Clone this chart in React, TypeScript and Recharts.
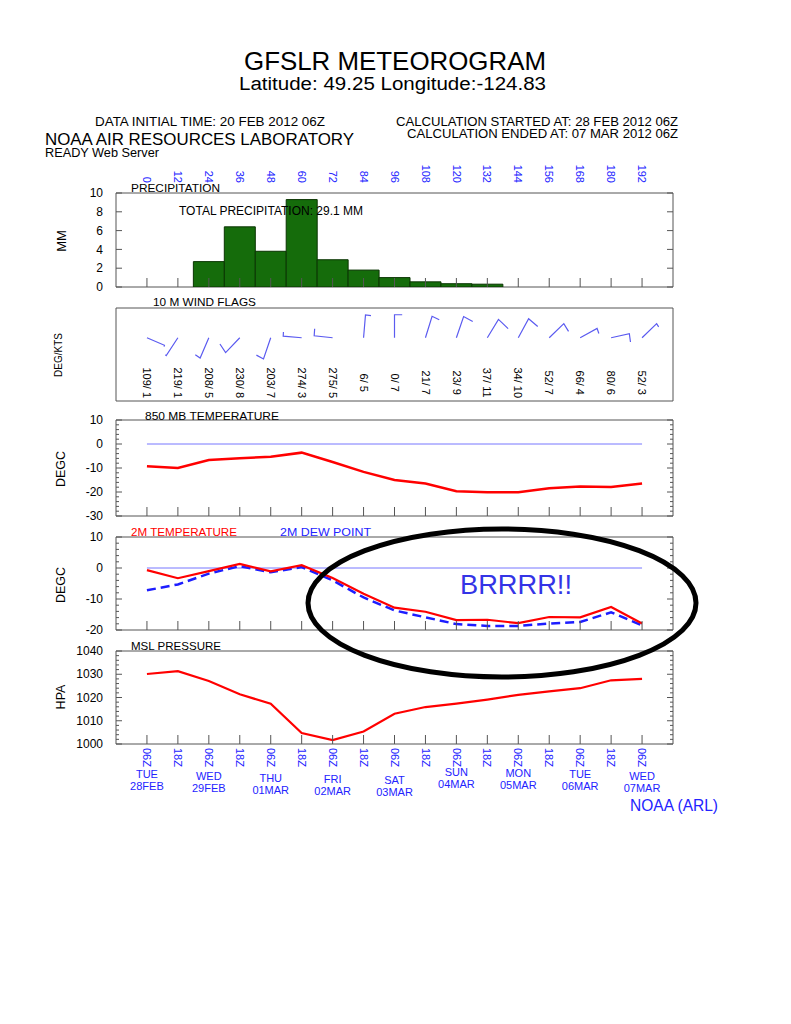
import React from 'react';
import {
  ComposedChart,
  Bar,
  Line,
  Scatter,
  XAxis,
  YAxis,
  ReferenceArea,
  ReferenceLine,
} from 'recharts';

// forecast hours (every 12 h from 28 FEB 06Z)
const HOURS = [0, 12, 24, 36, 48, 60, 72, 84, 96, 108, 120, 132, 144, 156, 168, 180, 192];

// precipitation per 12 h (mm)
const PRECIP_HOURS = [24, 36, 48, 60, 72, 84, 96, 108, 120, 132];
const PRECIP_MM = [2.7, 6.4, 3.8, 9.3, 2.9, 1.8, 1.0, 0.55, 0.35, 0.3];

// 10 m wind: direction (deg) / speed (kts)
const WIND_DIR = [109, 219, 208, 230, 203, 274, 275, 6, 0, 21, 23, 37, 34, 52, 66, 80, 52];
const WIND_KTS = [1, 1, 5, 8, 7, 3, 5, 5, 7, 7, 9, 11, 10, 7, 4, 6, 3];

// temperatures (degC) and pressure (hPa)
const T850 = [-9.3, -10, -6.7, -5.9, -5.3, -3.6, -7.5, -11.6, -15, -16.5, -19.7, -20.1, -20.1, -18.4, -17.7, -17.9, -16.5];
const T2M = [-0.7, -3.3, -1, 1.3, -1.1, 0.9, -3.2, -8.3, -12.8, -14.1, -16.8, -16.7, -17.8, -15.8, -15.9, -12.6, -17.9];
const DEW2M = [-7.2, -5.3, -1.8, 0.6, -1.4, 0.3, -4, -9.5, -13.7, -15.9, -18.1, -18.7, -18.7, -17.9, -17.4, -14.3, -18.5];
const MSLP = [1030.1, 1031.3, 1027.1, 1021.4, 1017.3, 1004.7, 1001.7, 1005.4, 1013, 1015.9, 1017.4, 1019.1, 1021.1, 1022.6, 1024, 1027.4, 1028];

// tick labels
const PRECIP_TICKS = [0, 2, 4, 6, 8, 10];
const T850_TICKS = [-30, -20, -10, 0, 10];
const T2M_TICKS = [-20, -10, 0, 10];
const MSLP_TICKS = [1000, 1010, 1020, 1030, 1040];
const TIME_LABELS = ['06Z', '18Z', '06Z', '18Z', '06Z', '18Z', '06Z', '18Z', '06Z', '18Z', '06Z', '18Z', '06Z', '18Z', '06Z', '18Z', '06Z'];
const DAY_NAMES = ['TUE', 'WED', 'THU', 'FRI', 'SAT', 'SUN', 'MON', 'TUE', 'WED'];
const DAY_DATES = ['28FEB', '29FEB', '01MAR', '02MAR', '03MAR', '04MAR', '05MAR', '06MAR', '07MAR'];
const DAY_SHIFT = [0, 2, 4, 5, 6, -2, -1, 0, 2];

const W = 791;
const X_DOMAIN: [number, number] = [-12, 204];
const WIND_ROW = 0.68;
const FONT = '"Liberation Sans", Arial, Helvetica, sans-serif';
const BLUE = '#2323ff';
const RED = '#ff0000';
const FRAME = '#555555';
const GREEN = '#156c0b';

const minorTicks = (lo: number, hi: number) => {
  const out: number[] = [];
  for (let v = lo; v <= hi; v += 2) out.push(v);
  return out;
};

const leftTick = (majors: number[]) => (props: any) => {
  const { x, y, payload } = props;
  const major = majors.includes(payload.value);
  return (
    <g>
      <line x1={x} y1={y} x2={x + (major ? 6 : 3)} y2={y} stroke={FRAME} />
      {major && (
        <text x={x - 13} y={y} dy="0.35em" textAnchor="end" fontSize={12} fill="#000" fontFamily={FONT}>
          {payload.value}
        </text>
      )}
    </g>
  );
};

const rightTick = (majors: number[]) => (props: any) => {
  const { x, y, payload } = props;
  const major = majors.includes(payload.value);
  return <line x1={x} y1={y} x2={x - (major ? 6 : 3)} y2={y} stroke={FRAME} />;
};

const innerTick = (props: any) => {
  const { x, y } = props;
  return <line x1={x} y1={y} x2={x} y2={y - 9} stroke={FRAME} />;
};

const topHourTick = (props: any) => {
  const { x, y, payload } = props;
  return (
    <text
      x={x}
      y={y}
      dy="0.35em"
      transform={`rotate(90 ${x} ${y})`}
      textAnchor="end"
      fontSize={11}
      fill={BLUE}
      fontFamily={FONT}
    >
      {payload.value}
    </text>
  );
};

const timeTick = (props: any) => {
  const { x, y, payload } = props;
  const i = HOURS.indexOf(payload.value);
  const d = payload.value % 24 === 0 ? payload.value / 24 : -1;
  return (
    <g fontFamily={FONT} fill={BLUE} fontSize={11}>
      <line x1={x} y1={y} x2={x} y2={y - 9} stroke={FRAME} />
      <text x={x} y={y + 4} dy="0.35em" transform={`rotate(90 ${x} ${y + 4})`} textAnchor="start">
        {TIME_LABELS[i]}
      </text>
      {d >= 0 && (
        <>
          <text x={x} y={y + 30 + DAY_SHIFT[d]} dy="0.35em" textAnchor="middle">
            {DAY_NAMES[d]}
          </text>
          <text x={x} y={y + 42 + DAY_SHIFT[d]} dy="0.35em" textAnchor="middle">
            {DAY_DATES[d]}
          </text>
        </>
      )}
    </g>
  );
};

// wind flag: staff toward the direction the wind blows from, barb on the right
const WindFlag = (props: any) => {
  const { cx, cy, payload } = props;
  const a = (payload.dir * Math.PI) / 180;
  const b = ((payload.dir + 90) * Math.PI) / 180;
  const tx = cx + Math.sin(a) * 18.5;
  const ty = cy - Math.cos(a) * 23;
  const bx = tx + Math.sin(b) * 1.1 * payload.kts;
  const by = ty - Math.cos(b) * 1.4 * payload.kts;
  return (
    <g>
      <polyline points={`${cx},${cy} ${tx},${ty} ${bx},${by}`} fill="none" stroke="#5b5bf0" strokeWidth={1.2} />
      <text
        x={cx}
        y={cy + 45}
        dy="0.35em"
        transform={`rotate(90 ${cx} ${cy + 45})`}
        textAnchor="middle"
        fontSize={11}
        fill="#000"
        fontFamily={FONT}
      >
        {`${payload.dir}/ ${payload.kts}`}
      </text>
    </g>
  );
};

const Panel = ({ top, height, children }: { top: number; height: number; children: React.ReactNode }) => (
  <div style={{ position: 'absolute', left: 0, top, width: W, height }}>{children}</div>
);

const xCommon = {
  type: 'number' as const,
  dataKey: 'hour',
  domain: X_DOMAIN,
  ticks: HOURS,
  interval: 0 as const,
  allowDataOverflow: true,
  tickSize: 0,
  tickMargin: 0,
  axisLine: false,
  tickLine: false,
};

const yAxes = (lo: number, hi: number, majors: number[], ticks: number[]) => [
  <YAxis
    key="l"
    type="number"
    domain={[lo, hi]}
    ticks={ticks}
    interval={0}
    width={116}
    allowDataOverflow
    tickSize={0}
    tickMargin={0}
    axisLine={false}
    tickLine={false}
    tick={leftTick(majors)}
  />,
  <YAxis
    key="r"
    yAxisId="r"
    orientation="right"
    type="number"
    domain={[lo, hi]}
    ticks={ticks}
    interval={0}
    width={118}
    allowDataOverflow
    tickSize={0}
    tickMargin={0}
    axisLine={false}
    tickLine={false}
    tick={rightTick(majors)}
  />,
];

const frame = (lo: number, hi: number) => (
  <ReferenceArea x1={X_DOMAIN[0]} x2={X_DOMAIN[1]} y1={lo} y2={hi} fill="none" stroke={FRAME} ifOverflow="visible" />
);

export default function App() {
  const precipData = PRECIP_HOURS.map((hour, i) => ({ hour, mm: PRECIP_MM[i] }));
  const windData = HOURS.map((hour, i) => ({ hour, row: WIND_ROW, dir: WIND_DIR[i], kts: WIND_KTS[i] }));
  const t850Data = HOURS.map((hour, i) => ({ hour, t: T850[i] }));
  const t2mData = HOURS.map((hour, i) => ({ hour, t: T2M[i], td: DEW2M[i] }));
  const mslData = HOURS.map((hour, i) => ({ hour, p: MSLP[i] }));
  const zeroSeg = [
    { x: HOURS[0], y: 0 },
    { x: HOURS[HOURS.length - 1], y: 0 },
  ];

  return (
    <div style={{ position: 'absolute', left: 0, top: 0, width: W, height: 1024, background: '#fff', fontFamily: FONT }}>
      <Panel top={150} height={147}>
        <ComposedChart width={W} height={147} data={precipData} margin={{ top: 10, right: 0, bottom: 0, left: 0 }} barCategoryGap={0} barGap={0}>
          <XAxis {...xCommon} xAxisId="top" orientation="top" height={33} tickMargin={10} tick={topHourTick} />
          <XAxis {...xCommon} height={10} tick={innerTick} />
          {yAxes(0, 10, PRECIP_TICKS, PRECIP_TICKS)}
          <Bar dataKey="mm" fill={GREEN} stroke="#0b3503" strokeWidth={1} isAnimationActive={false} />
          {frame(0, 10)}
        </ComposedChart>
      </Panel>

      <Panel top={298} height={112}>
        <ComposedChart width={W} height={112} data={windData} margin={{ top: 10, right: 118, bottom: 9, left: 0 }}>
          <XAxis {...xCommon} height={0} tick={false} />
          <YAxis type="number" domain={[0, 1]} width={116} tick={false} axisLine={false} tickLine={false} />
          <Scatter dataKey="row" shape={<WindFlag />} isAnimationActive={false} />
          {frame(0, 1)}
        </ComposedChart>
      </Panel>

      <Panel top={410} height={116}>
        <ComposedChart width={W} height={116} data={t850Data} margin={{ top: 10, right: 0, bottom: 0, left: 0 }}>
          <XAxis {...xCommon} height={10} tick={innerTick} />
          {yAxes(-30, 10, T850_TICKS, minorTicks(-30, 10))}
          <ReferenceLine segment={zeroSeg} stroke="#7777ff" strokeWidth={1} />
          <Line type="linear" dataKey="t" stroke={RED} strokeWidth={2.5} dot={false} isAnimationActive={false} />
          {frame(-30, 10)}
        </ComposedChart>
      </Panel>

      <Panel top={527} height={113}>
        <ComposedChart width={W} height={113} data={t2mData} margin={{ top: 10, right: 0, bottom: 0, left: 0 }}>
          <XAxis {...xCommon} height={10} tick={innerTick} />
          {yAxes(-20, 10, T2M_TICKS, minorTicks(-20, 10))}
          <ReferenceLine segment={zeroSeg} stroke="#7777ff" strokeWidth={1} />
          <Line type="linear" dataKey="td" stroke="#1d1dff" strokeWidth={2.5} strokeDasharray="9 5" dot={false} isAnimationActive={false} />
          <Line type="linear" dataKey="t" stroke={RED} strokeWidth={2.2} dot={false} isAnimationActive={false} />
          {frame(-20, 10)}
        </ComposedChart>
      </Panel>

      <Panel top={641} height={160}>
        <ComposedChart width={W} height={160} data={mslData} margin={{ top: 10, right: 0, bottom: 0, left: 0 }}>
          <XAxis {...xCommon} height={57} tick={timeTick} />
          {yAxes(1000, 1040, MSLP_TICKS, minorTicks(1000, 1040))}
          <Line type="linear" dataKey="p" stroke={RED} strokeWidth={2.2} dot={false} isAnimationActive={false} />
          {frame(1000, 1040)}
        </ComposedChart>
      </Panel>

      <svg width={W} height={1024} style={{ position: 'absolute', left: 0, top: 0, pointerEvents: 'none' }} fontFamily={FONT}>
        <text x={244} y={70} fontSize={25} textLength={302} lengthAdjust="spacingAndGlyphs">GFSLR METEOROGRAM</text>
        <text x={239} y={90} fontSize={18} textLength={307} lengthAdjust="spacingAndGlyphs">Latitude: 49.25 Longitude:-124.83</text>
        <text x={95} y={126} fontSize={12.5} textLength={230} lengthAdjust="spacingAndGlyphs">DATA INITIAL TIME: 20 FEB 2012 06Z</text>
        <text x={396} y={126} fontSize={12.5} textLength={282} lengthAdjust="spacingAndGlyphs">CALCULATION STARTED AT: 28 FEB 2012 06Z</text>
        <text x={407} y={138} fontSize={12.5} textLength={271} lengthAdjust="spacingAndGlyphs">CALCULATION ENDED AT: 07 MAR 2012 06Z</text>
        <text x={45} y={145} fontSize={16.5} textLength={309} lengthAdjust="spacingAndGlyphs">NOAA AIR RESOURCES LABORATORY</text>
        <text x={45} y={157} fontSize={12.5} textLength={114} lengthAdjust="spacingAndGlyphs">READY Web Server</text>

        <text x={131} y={192} fontSize={11.5} textLength={89} lengthAdjust="spacingAndGlyphs">PRECIPITATION</text>
        <text x={179} y={215} fontSize={12} textLength={184} lengthAdjust="spacingAndGlyphs">TOTAL PRECIPITATION:  29.1 MM</text>
        <text x={153} y={306} fontSize={11} textLength={103} lengthAdjust="spacingAndGlyphs">10 M  WIND FLAGS</text>
        <text x={145} y={420} fontSize={11} textLength={134} lengthAdjust="spacingAndGlyphs">850 MB  TEMPERATURE</text>
        <text x={131} y={536} fontSize={11.5} fill={RED} textLength={106} lengthAdjust="spacingAndGlyphs">2M TEMPERATURE</text>
        <text x={280} y={536} fontSize={11.5} fill={BLUE} textLength={91} lengthAdjust="spacingAndGlyphs">2M   DEW POINT</text>
        <text x={131} y={650} fontSize={11.5} textLength={90} lengthAdjust="spacingAndGlyphs">MSL PRESSURE</text>

        <text transform="rotate(-90 61 241)" x={61} y={241} dy="0.35em" textAnchor="middle" fontSize={13}>MM</text>
        <text transform="rotate(-90 58 355)" x={58} y={355} dy="0.35em" textAnchor="middle" fontSize={10}>DEG/KTS</text>
        <text transform="rotate(-90 61 469)" x={61} y={469} dy="0.35em" textAnchor="middle" fontSize={12.5}>DEGC</text>
        <text transform="rotate(-90 61 585)" x={61} y={585} dy="0.35em" textAnchor="middle" fontSize={12.5}>DEGC</text>
        <text transform="rotate(-90 61 697)" x={61} y={697} dy="0.35em" textAnchor="middle" fontSize={12.5}>HPA</text>

        <text x={630} y={811} fontSize={16} fill={BLUE} textLength={88} lengthAdjust="spacingAndGlyphs">NOAA (ARL)</text>

        <ellipse cx={502} cy={603} rx={194} ry={74} fill="none" stroke="#000" strokeWidth={5} />
        <text x={460} y={594} fontSize={28} fill="#3434e6" textLength={112} lengthAdjust="spacingAndGlyphs">BRRRR!!</text>
      </svg>
    </div>
  );
}
